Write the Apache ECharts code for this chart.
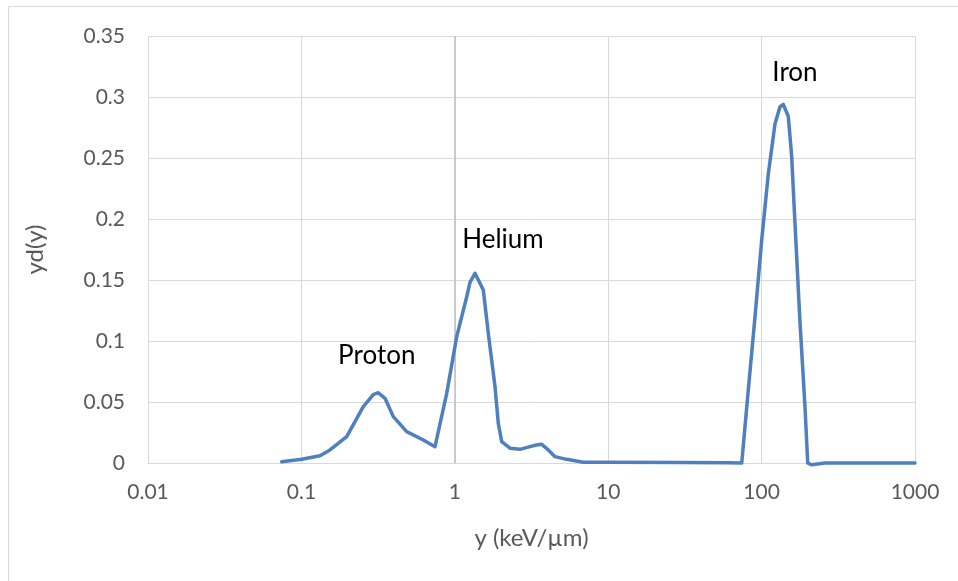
<!DOCTYPE html>
<html>
<head>
<meta charset="utf-8">
<script src="https://cdn.jsdelivr.net/npm/echarts@6/dist/echarts.min.js"></script>
<style>
html,body{margin:0;padding:0;background:#fff;}
#c{width:958px;height:581px;}
</style>
</head>
<body>
<div id="c"></div>
<script>
// x values (keV/µm), log scale
const xValues = [0.0744, 0.1005, 0.1322, 0.1536, 0.1974, 0.2532, 0.2942, 0.3171, 0.3508, 0.3973, 0.4858, 0.6233, 0.7431,
  0.8856, 1.029, 1.196, 1.256, 1.354, 1.534, 1.658, 1.829, 1.921, 2.022, 2.289, 2.66, 3.09, 3.4, 3.686, 4.07, 4.50, 5.36, 6.88,
  10, 30, 60, 74.2, 81.9, 90.6, 100.2, 110.6, 122.3, 131.8, 138.5, 149.3, 157.1, 165.1, 178.0, 191.8, 199.8,
  212, 259, 500, 1000];
// yd(y) values
const ydValues = [0.001, 0.003, 0.006, 0.0107, 0.0216, 0.0462, 0.0560, 0.0576, 0.0530, 0.0380, 0.0257, 0.0188, 0.0134,
  0.0571, 0.1036, 0.1363, 0.148, 0.1555, 0.1418, 0.105, 0.0625, 0.0325, 0.0175, 0.0121, 0.0112, 0.0134, 0.0148, 0.0153, 0.0107, 0.0052, 0.003, 0.0006,
  0.0006, 0.0005, 0.0002, 0.0, 0.060, 0.120, 0.183, 0.237, 0.278, 0.292, 0.294, 0.284, 0.251, 0.196, 0.115, 0.046, 0.0,
  -0.0015, 0.0, 0.0, 0.0];
// peak annotations
const peakNames = ['Proton', 'Helium', 'Iron'];
const peakX = [0.31, 2.06, 165];
const peakY = [0.088, 0.183, 0.32];
const yTicks = [0, 0.05, 0.1, 0.15, 0.2, 0.25, 0.3, 0.35];

const FONT = 'Lato, "Open Sans", sans-serif';
const chart = echarts.init(document.getElementById('c'));
chart.setOption({
  animation: false,
  backgroundColor: '#fff',
  grid: { left: 148, right: 43, top: 36, bottom: 118 },
  graphic: [{
    type: 'rect', shape: { x: 8.5, y: 6.5, width: 960, height: 600 },
    style: { fill: 'none', stroke: '#d9d9d9', lineWidth: 1 }, silent: true, z: -1
  }],
  xAxis: {
    type: 'log', logBase: 10, min: 0.01, max: 1000,
    name: 'y (keV/µm)', nameLocation: 'middle', nameGap: 63,
    nameTextStyle: { color: '#595959', fontSize: 24, fontFamily: FONT },
    axisLine: { show: true, lineStyle: { color: '#d9d9d9', width: 1 } },
    axisTick: { show: false },
    minorTick: { show: false },
    splitLine: { show: true, lineStyle: { color: '#d9d9d9', width: 1 } },
    axisLabel: {
      color: '#595959', fontSize: 21, fontFamily: FONT, margin: 19,
      formatter: function (v) { return String(+v.toPrecision(6)); }
    }
  },
  yAxis: {
    type: 'value', min: 0, max: 0.35, interval: 0.05,
    name: 'yd(y)', nameLocation: 'middle', nameGap: 101, nameRotate: 90,
    nameTextStyle: { color: '#595959', fontSize: 24, fontFamily: FONT },
    axisLine: { show: false }, axisTick: { show: false },
    splitLine: { show: true, lineStyle: { color: '#d9d9d9', width: 1 } },
    axisLabel: {
      color: '#595959', fontSize: 21, fontFamily: FONT, margin: 23,
      formatter: function (v) { return yTicks.indexOf(+v.toFixed(2)) >= 0 ? String(+v.toFixed(2)) : ''; }
    }
  },
  series: [{
    type: 'line',
    data: xValues.map((x, i) => [x, ydValues[i]]),
    smooth: false,
    showSymbol: false,
    clip: false,
    lineStyle: { color: '#4f7fbf', width: 3.5, join: 'round', cap: 'round' },
    itemStyle: { color: '#4f7fbf' },
    markLine: {
      silent: true, symbol: 'none', animation: false,
      label: { show: false },
      lineStyle: { color: '#bfbfbf', width: 1.5, type: 'solid' },
      data: [{ xAxis: 1 }],
      z: 1
    },
    markPoint: {
      silent: true, symbol: 'circle', symbolSize: 0,
      label: { show: true, position: 'inside', color: '#000', fontSize: 26, fontFamily: FONT, formatter: '{b}' },
      data: peakNames.map((n, i) => ({ name: n, coord: [peakX[i], peakY[i]] }))
    }
  }]
});
</script>
</body>
</html>
